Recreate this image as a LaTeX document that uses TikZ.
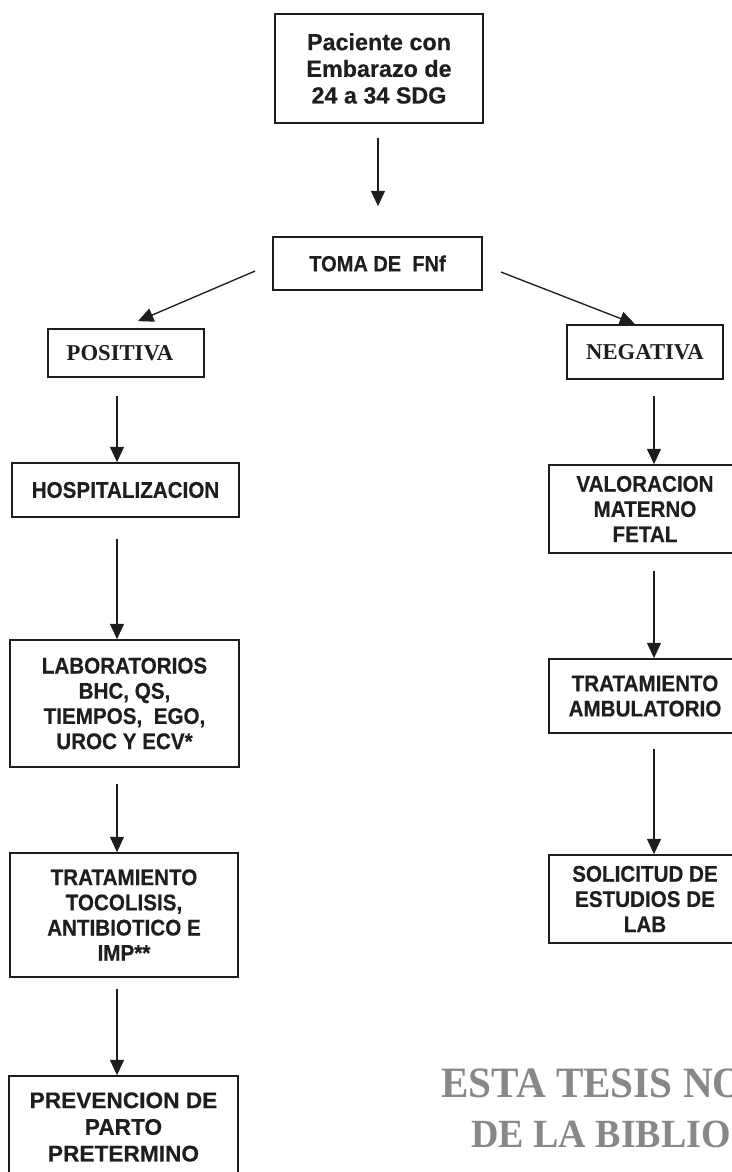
\documentclass[tikz,border=0pt]{standalone}
\usepackage{fontspec}
\setmainfont{Liberation Serif}
\setsansfont{Liberation Sans}[FakeBold=0.4]
\newfontfamily\narrowsf{Liberation Sans}[FakeStretch=0.91, FakeBold=0.4]
\newfontfamily\stampfont{Liberation Serif}[FakeStretch=0.95]
\usetikzlibrary{arrows.meta,calc}
\definecolor{ink}{HTML}{1E1E1E}
\definecolor{stampgray}{HTML}{888888}
\begin{document}
\begin{tikzpicture}[x=0.75pt,y=-0.75pt,
  basebox/.style={draw=ink, line width=1.3pt, inner sep=0pt, align=center, text=ink},
  nbox/.style={basebox, font=\narrowsf\bfseries\fontsize{17}{18.9}\selectfont},
  wbox/.style={basebox, font=\sffamily\bfseries\fontsize{17}{20}\selectfont},
  rbox/.style={basebox, font=\rmfamily\bfseries\fontsize{17}{20}\selectfont},
  arr/.style={draw=ink, line width=1pt, -{Triangle[width=10.5pt,length=11.5pt]}},
  stamp/.style={text=stampgray, inner sep=0pt, anchor=base west}
]
\useasboundingbox (0,0) rectangle (732,1172);
\fill[white] (0,0) rectangle (732,1172);

% boxes
\node[wbox, font=\sffamily\bfseries\fontsize{17.5}{20}\selectfont,
      minimum width=156pt, minimum height=81.75pt] (top) at (379,68.5)
  {Paciente con\\Embarazo de\\24 a 34 SDG};
\node[nbox, font=\narrowsf\bfseries\fontsize{16.5}{18.75}\selectfont,
      minimum width=156.75pt, minimum height=39.75pt] (toma) at (377.5,263.5)
  {TOMA DE\ \ FNf};
\node[rbox, minimum width=117pt, minimum height=36pt] (pos) at (126,353)
  {POSITIVA\hspace*{9pt}};
\node[rbox, minimum width=117pt, minimum height=40.5pt] (neg) at (645,352)
  {NEGATIVA};
\node[nbox, minimum width=170.25pt, minimum height=40.5pt] (hosp) at (125.5,490)
  {HOSPITALIZACION};
\node[nbox, minimum width=171.75pt, minimum height=95.25pt] (lab) at (124.5,703.5)
  {LABORATORIOS\\BHC, QS,\\TIEMPOS,\ \ EGO,\\UROC Y ECV*};
\node[nbox, minimum width=171pt, minimum height=93pt] (trat) at (124,915)
  {TRATAMIENTO\\TOCOLISIS,\\ANTIBIOTICO E\\IMP**};
\node[wbox, minimum width=171.75pt, minimum height=76.5pt] (prev) at (123.5,1127)
  {PREVENCION DE\\PARTO\\PRETERMINO};
\node[nbox, minimum width=144pt, minimum height=66pt] (val) at (645,509)
  {VALORACION\\MATERNO\\FETAL};
\node[nbox, minimum width=144pt, minimum height=55.5pt] (amb) at (645,696)
  {TRATAMIENTO\\AMBULATORIO};
\node[nbox, minimum width=144pt, minimum height=66pt] (sol) at (645,899)
  {SOLICITUD DE\\ESTUDIOS DE\\LAB};

% connectors
\draw[arr] ($(top.south)+(-1,14)$) -- ($(toma.north)+(0.5,-30)$);
\draw[arr] ($(toma.west)+(-17,7.5)$) -- ($(pos.north)+(12,-7)$);
\draw[arr] ($(toma.east)+(18,8.5)$) -- ($(neg.north)+(-10,0)$);
\draw[arr] ($(pos.south)+(-9,18)$) -- ($(hosp.north)+(-8.5,0)$);
\draw[arr] ($(hosp.south)+(-8.5,21)$) -- ($(lab.north)+(-7.5,0)$);
\draw[arr] ($(lab.south)+(-7.5,16)$) -- ($(trat.north)+(-7,0)$);
\draw[arr] ($(trat.south)+(-7,11)$) -- ($(prev.north)+(-6.5,0)$);
\draw[arr] ($(neg.south)+(9,16)$) -- ($(val.north)+(9,0)$);
\draw[arr] ($(val.south)+(9,17)$) -- ($(amb.north)+(9,0)$);
\draw[arr] ($(amb.south)+(9,15)$) -- ($(sol.north)+(9,0)$);

% stamp
\node[stamp, font=\stampfont\bfseries\fontsize{32.5}{36}\selectfont] (stampa) at (441,1097) {ESTA TESIS NO};
\node[stamp, font=\stampfont\bfseries\fontsize{30}{34}\selectfont] (stampb) at (471,1147) {DE LA BIBLIO};
\end{tikzpicture}
\end{document}
